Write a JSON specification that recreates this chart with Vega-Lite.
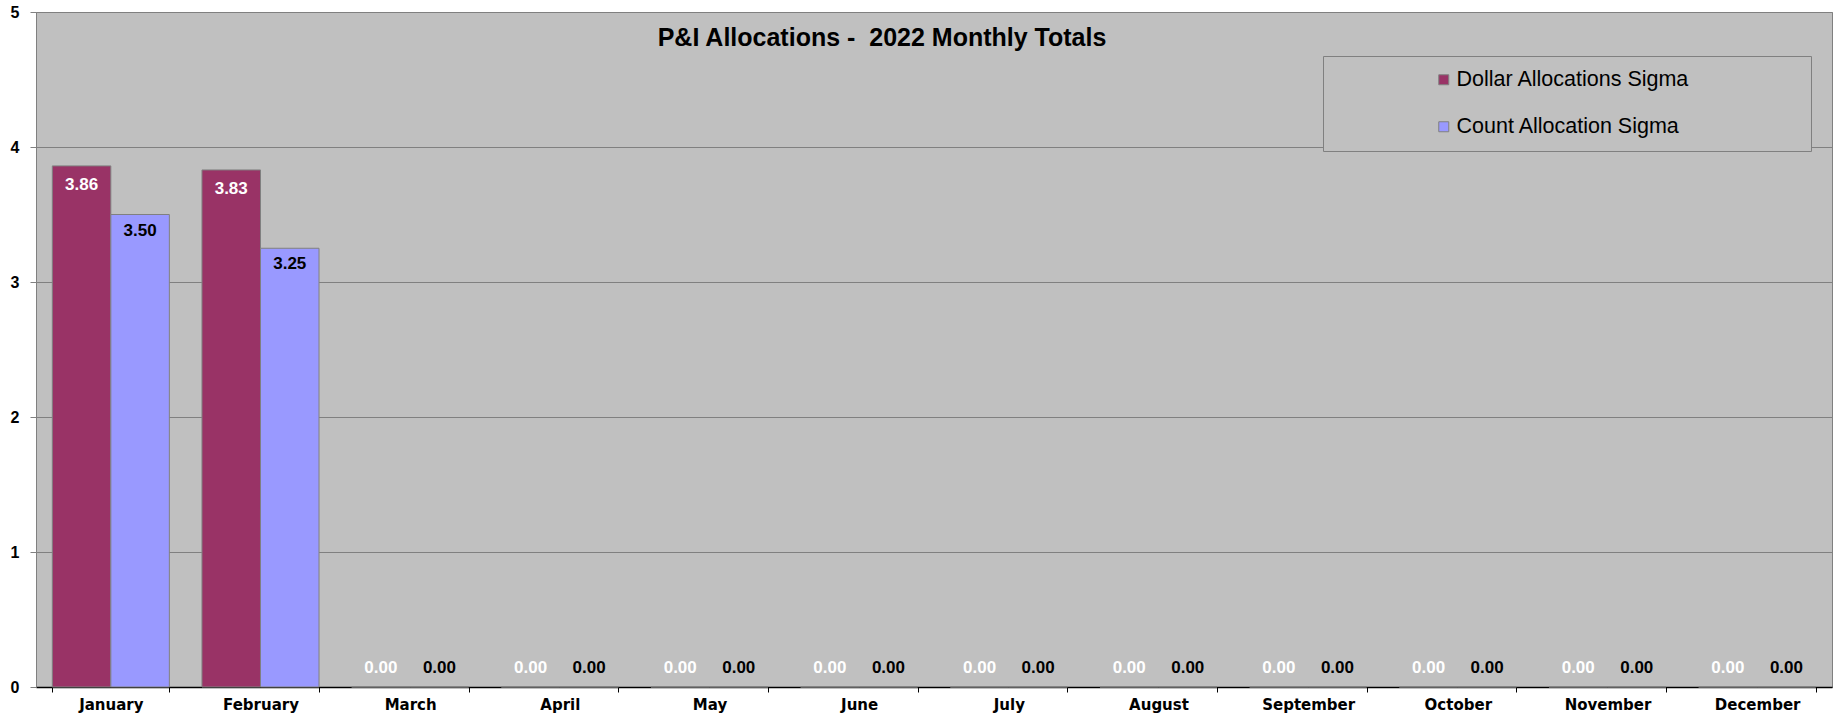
{
  "$schema": "https://vega.github.io/schema/vega-lite/v6.json",
  "width": 1796,
  "height": 675,
  "autosize": {"type": "none"},
  "padding": {"left": 36, "top": 12, "right": 3, "bottom": 34},
  "background": "#FFFFFF",
  "config": {
    "view": {"fill": "#C0C0C0", "stroke": "#808080", "strokeWidth": 1},
    "font": "Liberation Sans"
  },
  "title": {
    "text": "P&I Allocations -\u00a0 2022 Monthly Totals",
    "font": "Liberation Sans",
    "fontSize": 25,
    "fontWeight": "bold",
    "color": "#000000",
    "frame": "group",
    "anchor": "middle",
    "dx": -52,
    "offset": -47
  },
  "data": {
    "values": [
      {"month": "January", "series": "Dollar Allocations Sigma", "value": 3.86},
      {"month": "January", "series": "Count Allocation Sigma", "value": 3.50},
      {"month": "February", "series": "Dollar Allocations Sigma", "value": 3.83},
      {"month": "February", "series": "Count Allocation Sigma", "value": 3.25},
      {"month": "March", "series": "Dollar Allocations Sigma", "value": 0},
      {"month": "March", "series": "Count Allocation Sigma", "value": 0},
      {"month": "April", "series": "Dollar Allocations Sigma", "value": 0},
      {"month": "April", "series": "Count Allocation Sigma", "value": 0},
      {"month": "May", "series": "Dollar Allocations Sigma", "value": 0},
      {"month": "May", "series": "Count Allocation Sigma", "value": 0},
      {"month": "June", "series": "Dollar Allocations Sigma", "value": 0},
      {"month": "June", "series": "Count Allocation Sigma", "value": 0},
      {"month": "July", "series": "Dollar Allocations Sigma", "value": 0},
      {"month": "July", "series": "Count Allocation Sigma", "value": 0},
      {"month": "August", "series": "Dollar Allocations Sigma", "value": 0},
      {"month": "August", "series": "Count Allocation Sigma", "value": 0},
      {"month": "September", "series": "Dollar Allocations Sigma", "value": 0},
      {"month": "September", "series": "Count Allocation Sigma", "value": 0},
      {"month": "October", "series": "Dollar Allocations Sigma", "value": 0},
      {"month": "October", "series": "Count Allocation Sigma", "value": 0},
      {"month": "November", "series": "Dollar Allocations Sigma", "value": 0},
      {"month": "November", "series": "Count Allocation Sigma", "value": 0},
      {"month": "December", "series": "Dollar Allocations Sigma", "value": 0},
      {"month": "December", "series": "Count Allocation Sigma", "value": 0}
    ]
  },
  "encoding": {
    "x": {
      "field": "month",
      "type": "nominal",
      "sort": ["January", "February", "March", "April", "May", "June", "July", "August", "September", "October", "November", "December"],
      "scale": {"paddingInner": 0.218, "paddingOuter": 0.109},
      "axis": {
        "title": null,
        "labelAngle": 0,
        "labelFont": "DejaVu Sans",
        "labelFontWeight": "bold",
        "labelFontSize": 15,
        "labelColor": "#000000",
        "labelPadding": 5,
        "tickBand": "extent",
        "tickSize": 5,
        "tickColor": "#000000",
        "domainColor": "#000000",
        "domainWidth": 1.5
      }
    },
    "xOffset": {
      "field": "series",
      "type": "nominal",
      "sort": ["Dollar Allocations Sigma", "Count Allocation Sigma"],
      "scale": {"paddingInner": 0, "paddingOuter": 0}
    },
    "y": {
      "field": "value",
      "type": "quantitative",
      "scale": {"domain": [0, 5], "nice": false, "zero": true},
      "axis": {
        "title": null,
        "values": [0, 1, 2, 3, 4, 5],
        "format": "d",
        "grid": true,
        "gridColor": "#808080",
        "gridOpacity": 1,
        "domainColor": "#808080",
        "tickColor": "#808080",
        "tickSize": 6,
        "labelPadding": 11,
        "labelFont": "Liberation Sans",
        "labelFontWeight": "bold",
        "labelFontSize": 16,
        "labelColor": "#000000"
      }
    }
  },
  "layer": [
    {
      "mark": {"type": "bar", "stroke": "#808080", "strokeWidth": 1},
      "encoding": {
        "color": {
          "field": "series",
          "type": "nominal",
          "sort": ["Dollar Allocations Sigma", "Count Allocation Sigma"],
          "scale": {"domain": ["Dollar Allocations Sigma", "Count Allocation Sigma"], "range": ["#993366", "#9999FF"]},
          "legend": {
            "orient": "none",
            "legendX": 1287,
            "legendY": 44,
            "title": null,
            "strokeColor": "#808080",
            "fillColor": "#C0C0C0",
            "padding": 13,
            "symbolType": "square",
            "symbolSize": 100,
            "symbolStrokeColor": "#808080",
            "symbolStrokeWidth": 1,
            "symbolOffset": 97,
            "labelOffset": 2,
            "labelFont": "Liberation Sans",
            "labelFontSize": 21.5,
            "labelColor": "#000000",
            "labelLimit": 1000,
            "rowPadding": 24,
            "labelExpr": "datum.label + '\u00a0\u00a0\u00a0\u00a0\u00a0\u00a0\u00a0\u00a0\u00a0\u00a0\u00a0\u00a0\u00a0\u00a0\u00a0\u00a0\u00a0\u00a0\u200b'"
          }
        }
      }
    },
    {
      "transform": [{"filter": "datum.value > 0 && datum.series === 'Dollar Allocations Sigma'"}],
      "mark": {"type": "text", "baseline": "top", "dy": 11, "font": "Liberation Sans", "fontWeight": "bold", "fontSize": 17, "color": "#FFFFFF"},
      "encoding": {
        "text": {"field": "value", "type": "quantitative", "format": ".2f"}
      }
    },
    {
      "transform": [{"filter": "datum.value > 0 && datum.series === 'Count Allocation Sigma'"}],
      "mark": {"type": "text", "baseline": "top", "dy": 8, "font": "Liberation Sans", "fontWeight": "bold", "fontSize": 17, "color": "#000000"},
      "encoding": {
        "text": {"field": "value", "type": "quantitative", "format": ".2f"}
      }
    },
    {
      "transform": [{"filter": "datum.value == 0"}],
      "mark": {"type": "text", "baseline": "alphabetic", "dy": -14, "font": "Liberation Sans", "fontWeight": "bold", "fontSize": 17},
      "encoding": {
        "text": {"field": "value", "type": "quantitative", "format": ".2f"},
        "color": {"condition": {"test": "datum.series === 'Dollar Allocations Sigma'", "value": "#FFFFFF"}, "value": "#000000"}
      }
    }
  ]
}
